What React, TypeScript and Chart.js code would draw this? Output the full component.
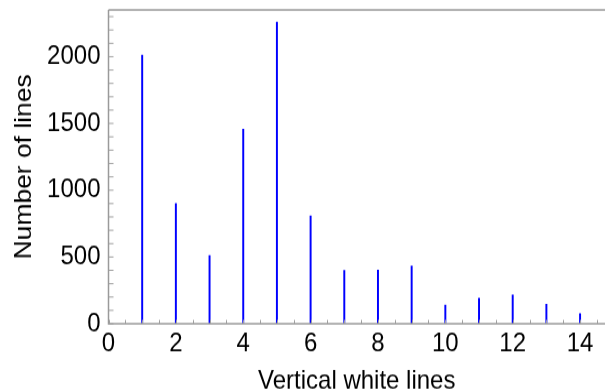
import React, { useEffect, useRef } from "react";
import { Chart, registerables } from "chart.js";

Chart.register(...registerables);

const whiteLines = [1, 2, 3, 4, 5, 6, 7, 8, 9, 10, 11, 12, 13, 14];
const lineCounts = [2012, 900, 510, 1456, 2258, 807, 400, 402, 432, 140, 192, 215, 145, 75];
const xTickLabels = [0, 2, 4, 6, 8, 10, 12, 14];
const yTickLabels = [0, 500, 1000, 1500, 2000];
const xMinorStep = 0.5;
const yMinorStep = 100;
const xMax = 14.74;
const yMax = 2350;

const FONT = "'Liberation Sans', Arial, sans-serif";
const W = 605;
const H = 392;
const CANVAS_H = 356; // rendered then stretched vertically to 392

const framePlugin = {
  id: "frame",
  afterDatasetsDraw(chart: any) {
    const { ctx, chartArea, scales } = chart;
    const { left, right, top, bottom } = chartArea;
    ctx.save();
    ctx.strokeStyle = "#a0a0a0";
    ctx.lineWidth = 1;
    const xs = scales.x;
    for (let v = 0; v <= xMax + 1e-9; v += xMinorStep) {
      const px = Math.round(xs.getPixelForValue(v)) + 0.5;
      ctx.beginPath();
      ctx.moveTo(px, bottom);
      ctx.lineTo(px, bottom - 3.5);
      ctx.stroke();
    }
    const ys = scales.y;
    for (let v = 0; v <= yMax + 1e-9; v += yMinorStep) {
      const py = ys.getPixelForValue(v);
      ctx.beginPath();
      ctx.moveTo(left, py);
      ctx.lineTo(left + 5, py);
      ctx.stroke();
    }
    ctx.lineWidth = 1.5;
    ctx.strokeStyle = "#9a9a9a";
    ctx.beginPath();
    ctx.moveTo(left, top);
    ctx.lineTo(right, top);
    ctx.moveTo(left, top);
    ctx.lineTo(left, bottom);
    ctx.lineTo(right, bottom);
    ctx.stroke();
    ctx.restore();
  },
};

export default function App() {
  const ref = useRef<HTMLCanvasElement>(null);
  useEffect(() => {
    document.body.style.margin = "0";
    const chart = new Chart(ref.current as HTMLCanvasElement, {
      type: "bar",
      data: {
        datasets: [
          {
            data: whiteLines.map((x, i) => ({ x, y: lineCounts[i] })),
            backgroundColor: "#0000ff",
            borderWidth: 0,
            barThickness: 1.3,
          } as any,
        ],
      },
      options: {
        animation: false,
        responsive: false,
        maintainAspectRatio: false,
        devicePixelRatio: 1,
        layout: { padding: { top: 9, right: 0, left: 0, bottom: 0 } },
        plugins: { legend: { display: false }, tooltip: { enabled: false } },
        scales: {
          x: {
            type: "linear",
            offset: false,
            min: 0,
            max: xMax,
            grid: { display: false, drawTicks: false, offset: false },
            border: { display: false },
            afterFit: (s: any) => {
              s.height = CANVAS_H - 294;
              s.paddingLeft = 0;
              s.paddingRight = 0;
            },
            afterBuildTicks: (s: any) => {
              s.ticks = xTickLabels.map((v) => ({ value: v }));
            },
            ticks: {
              color: "#000",
              font: { family: FONT, size: 24 },
              padding: 3.5,
              maxRotation: 0,
              autoSkip: false,
              callback: (v: any) => String(v),
            },
            title: {
              display: true,
              text: "Vertical white lines",
              color: "#000",
              font: { family: FONT, size: 24 },
              padding: { top: 0, bottom: -5 },
            },
          },
          y: {
            type: "linear",
            min: 0,
            max: yMax,
            grid: { display: false, drawTicks: false },
            border: { display: false },
            afterFit: (s: any) => {
              s.width = 108.5;
              s.paddingTop = 0;
              s.paddingBottom = 0;
            },
            afterBuildTicks: (s: any) => {
              s.ticks = yTickLabels.map((v) => ({ value: v }));
            },
            ticks: {
              color: "#000",
              font: { family: FONT, size: 24 },
              padding: 8,
              callback: (v: any) => String(v),
            },
            title: {
              display: true,
              text: "Number of lines",
              color: "#000",
              font: { family: FONT, size: 24 },
              padding: { top: 9.5, bottom: 0 },
            },
          },
        },
      },
      plugins: [framePlugin],
    });
    return () => chart.destroy();
  }, []);
  return (
    <div style={{ position: "absolute", left: 0, top: 0, width: W, height: H }}>
      <canvas
        ref={ref}
        width={W}
        height={CANVAS_H}
        style={{ width: W + "px", height: H + "px", display: "block" }}
      />
    </div>
  );
}
